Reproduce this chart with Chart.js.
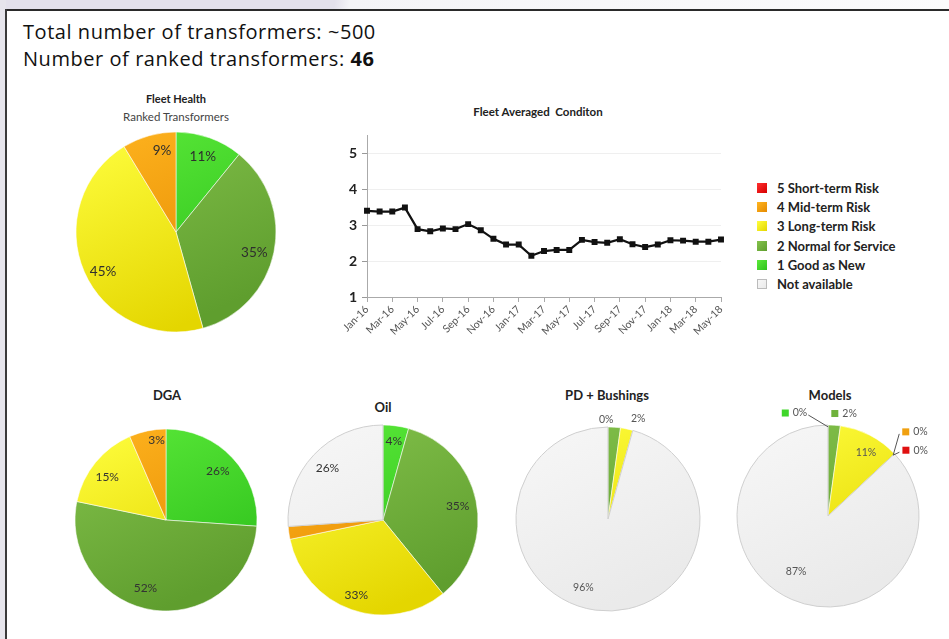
<!DOCTYPE html>
<html><head><meta charset="utf-8">
<script src="https://cdn.jsdelivr.net/npm/chart.js@4.4.1/dist/chart.umd.min.js"></script>
<style>
html,body{margin:0;padding:0;background:#fff;}
#page{position:relative;width:949px;height:639px;overflow:hidden;background:#fff;font-family:'Open Sans',sans-serif;color:#111;}
.abs{position:absolute;}
.ttl{position:absolute;font-family:Lato,sans-serif;font-weight:bold;color:#222;text-align:center;white-space:nowrap;transform:translate(-50%,-50%);}
.lg{position:absolute;left:757px;font-family:Lato,sans-serif;font-weight:bold;font-size:13px;color:#222;white-space:nowrap;}
.lg span.k{position:absolute;left:0;top:-5px;width:10px;height:10px;box-sizing:border-box;}
.lg span.t{position:absolute;left:20px;top:-8px;line-height:16px;}
canvas{position:absolute;}
</style></head>
<body><div id="page">
<div class="abs" style="left:0;top:0;width:949px;height:9px;background:linear-gradient(100deg,#e3e1eb 0,#e3e1eb 330px,#f4f4f7 345px,#fbfbfc 100%);"></div>
<div class="abs" style="left:0;top:0;width:6px;height:639px;background:#e6e5ec;"></div>
<div class="abs" style="left:6px;top:9px;width:943px;height:2px;background:#2a2a2a;"></div>
<div class="abs" style="left:5px;top:9px;width:2px;height:630px;background:#3a3a3a;"></div>

<div class="abs" style="left:23px;top:18px;font-size:20px;letter-spacing:0.55px;line-height:27px;white-space:nowrap;">Total number of transformers: ~500<br>Number of ranked transformers: <b>46</b></div>

<div class="ttl" style="left:176px;top:98px;font-size:11px;">Fleet Health</div>
<div class="ttl" style="left:176px;top:116px;font-size:11.5px;font-weight:normal;color:#444;">Ranked Transformers</div>
<div class="ttl" style="left:538px;top:111px;font-size:11.5px;">Fleet Averaged&nbsp; Conditon</div>
<div class="ttl" style="left:167px;top:395px;font-size:13px;">DGA</div>
<div class="ttl" style="left:383px;top:407px;font-size:13px;">Oil</div>
<div class="ttl" style="left:607px;top:395px;font-size:13px;">PD + Bushings</div>
<div class="ttl" style="left:830px;top:395px;font-size:13px;">Models</div>

<div id="legend"></div>

<canvas id="fleet" width="220" height="220" style="left:66px;top:122px;"></canvas>
<canvas id="line" width="410" height="235" style="left:330px;top:122px;"></canvas>
<canvas id="dga" width="200" height="200" style="left:66px;top:420px;"></canvas>
<canvas id="oil" width="210" height="210" style="left:278px;top:415px;"></canvas>
<canvas id="pd" width="220" height="220" style="left:498px;top:405px;"></canvas>
<canvas id="models" width="219" height="225" style="left:730px;top:405px;"></canvas>
</div>
<script>
// ---------- DATA ----------
const months = ['Jan-16','Feb-16','Mar-16','Apr-16','May-16','Jun-16','Jul-16','Aug-16','Sep-16','Oct-16','Nov-16','Dec-16',
  'Jan-17','Feb-17','Mar-17','Apr-17','May-17','Jun-17','Jul-17','Aug-17','Sep-17','Oct-17','Nov-17','Dec-17',
  'Jan-18','Feb-18','Mar-18','Apr-18','May-18'];
const avgCondition = [3.40,3.38,3.38,3.49,2.89,2.83,2.91,2.89,3.03,2.86,2.62,2.46,
  2.46,2.15,2.28,2.31,2.31,2.59,2.53,2.51,2.61,2.47,2.39,2.46,
  2.58,2.57,2.54,2.54,2.60];
const yTicks = [1,2,3,4,5];

// pie categories, clockwise from 12 o'clock
const categories = ['1 Good as New','2 Normal for Service','3 Long-term Risk','4 Mid-term Risk','5 Short-term Risk','Not available'];
const legendOrder = ['5 Short-term Risk','4 Mid-term Risk','3 Long-term Risk','2 Normal for Service','1 Good as New','Not available'];

// transformer counts (46 ranked)
const fleetHealth = [5,16,21,4,0,0];
const dga         = [12,24,7,3,0,0];
const oil         = [2,16,15,1,0,12];
const pdBushings  = [0,1,1,0,0,44];
const models      = [0,1,5,0,0,40];

// printed labels
const fleetHealthLabels = ['11%','35%','45%','9%',null,null];
const dgaLabels         = ['26%','52%','15%','3%',null,null];
const oilLabels         = ['4%','35%','33%',null,null,'26%'];
const pdLabels          = ['0%',null,'2%',null,null,'96%'];
const modelsLabels      = ['0%','2%','11%','0%','0%','87%'];

// ---------- STYLE ----------
const lightCol = ['#5CEA3A','#84C24C','#FFFF40','#FFB520','#FF3030','#F7F7F7'];
const darkCol  = ['#2FC21C','#5F9E2E','#E4D600','#E58A00','#D60000','#EAEAEA'];
const keyCol   = ['#3FD62A','#6FB23C','#F0EA10','#F0A010','#E01010','#FFFFFF'];

// legend
const lg = document.getElementById('legend');
legendOrder.forEach((name,i)=>{
  const ci = categories.indexOf(name);
  const d = document.createElement('div');
  d.className='lg'; d.style.top=(188+i*19.2)+'px';
  const border = name==='Not available' ? 'border:1px solid #bbb;' : '';
  d.innerHTML = '<span class="k" style="background:linear-gradient(135deg,'+lightCol[ci]+','+darkCol[ci]+');'+border+'"></span><span class="t">'+name+'</span>';
  lg.appendChild(d);
});

function sliceFill(ctx){
  const ci = ctx.dataIndex;
  const ch = ctx.chart, a = ch.chartArea;
  if(!a || ci === undefined) return keyCol[ci||0];
  const g = ch.ctx.createLinearGradient(a.left, a.top, a.left + a.width*0.45, a.bottom);
  g.addColorStop(0, lightCol[ci]); g.addColorStop(1, darkCol[ci]);
  return g;
}

function labelPlugin(spec){
  return { id:'sliceLabels', afterDatasetsDraw(chart){
    const ctx = chart.ctx, meta = chart.getDatasetMeta(0);
    meta.data.forEach((arc,i)=>{
      const t = spec.texts[i]; if(!t) return;
      const p = arc.getProps(['x','y','startAngle','endAngle','outerRadius'], true);
      const pl = spec.place[i];
      const a = (p.startAngle+p.endAngle)/2 + pl[1]*Math.PI/180;
      const lx = p.x + Math.cos(a)*p.outerRadius*pl[0];
      const ly = p.y + Math.sin(a)*p.outerRadius*pl[0];
      ctx.save();
      ctx.font = spec.font; ctx.textBaseline='middle';
      if(spec.keys && spec.keys[i]){
        const w = ctx.measureText(t).width, ks=7, gap=4, tot=ks+gap+w;
        const x0 = lx - tot/2;
        if(spec.leaders && spec.leaders[i]){
          const ang = p.startAngle;
          const ax = p.x + Math.cos(ang)*p.outerRadius*0.98, ay = p.y + Math.sin(ang)*p.outerRadius*0.98;
          const ex = lx < ax ? x0+tot+1 : x0-3;
          ctx.strokeStyle='#555'; ctx.lineWidth=1;
          ctx.beginPath(); ctx.moveTo(ax,ay); ctx.lineTo(ex, ly+2); ctx.stroke();
        }
        ctx.fillStyle = keyCol[i]; ctx.fillRect(x0, ly-ks/2, ks, ks);
        ctx.fillStyle = spec.color; ctx.textAlign='left'; ctx.fillText(t, x0+ks+gap, ly);
      } else {
        ctx.fillStyle = spec.color; ctx.textAlign='center'; ctx.fillText(t, lx, ly);
      }
      ctx.restore();
    });
  }};
}

function makePie(id, values, spec, cx, cy, r){
  const cv = document.getElementById(id);
  const left = parseFloat(cv.style.left), top = parseFloat(cv.style.top);
  const bw = 1;
  const pad = { left: cx - r - bw/2 - left, top: cy - r - bw/2 - top,
                right: left + cv.width - (cx + r + bw/2), bottom: top + cv.height - (cy + r + bw/2) };
  new Chart(cv, {
    type:'pie',
    data:{ labels: categories, datasets:[{ data: values,
      backgroundColor: sliceFill,
      borderColor: (c)=> c.dataIndex===5 ? '#cfcfcf' : 'rgba(255,255,255,0.55)',
      borderWidth: bw }]},
    options:{ responsive:false, animation:false, layout:{padding:pad},
      plugins:{ legend:{display:false}, tooltip:{enabled:false} } },
    plugins:[labelPlugin(spec)]
  });
}

makePie('fleet', fleetHealth, { texts: fleetHealthLabels, font:'13.5px Lato, sans-serif', color:'#2e2e2e',
  place:[[0.8,0],[0.81,3],[0.83,-5],[0.83,6],[0.8,0],[0.8,0]] }, 176, 232, 100);
makePie('dga', dga, { texts: dgaLabels, font:'12px Lato, sans-serif', color:'#333',
  place:[[0.78,0],[0.78,9],[0.8,-3],[0.88,5],[0.8,0],[0.8,0]] }, 166, 520, 91);
makePie('oil', oil, { texts: oilLabels, font:'12px Lato, sans-serif', color:'#333',
  place:[[0.84,0],[0.8,1],[0.84,0],[0.8,0],[0.8,0],[0.8,0]] }, 383, 520, 95);
makePie('pd', pdBushings, { texts: pdLabels, font:'10.5px Lato, sans-serif', color:'#555',
  place:[[1.08,-1],[1.1,0],[1.14,5],[1,0],[1,0],[0.79,12]] }, 608, 519, 92);
makePie('models', models, { texts: modelsLabels, font:'10.5px Lato, sans-serif', color:'#555',
  keys:[true,true,false,true,true,false], leaders:[true,false,false,true,true,false],
  place:[[1.19,-18],[1.14,5],[0.81,3.6],[1.33,-1],[1.2,6],[0.7,6.5]] }, 828, 516, 91);

// line chart
new Chart(document.getElementById('line'), {
  type:'line',
  data:{ labels: months, datasets:[{ data: avgCondition, borderColor:'#111', backgroundColor:'#111',
    borderWidth:2.2, pointStyle:'rect', pointRadius:4.2, pointBorderWidth:0, tension:0 }]},
  options:{ responsive:false, animation:false,
    layout:{ padding:{ top:10, right:19, left:0, bottom:0 } },
    plugins:{ legend:{display:false}, tooltip:{enabled:false} },
    scales:{
      x:{ offset:false,
        afterFit:(s)=>{ s.height = 60; },
        border:{ color:'#aaa' },
        grid:{ drawOnChartArea:false, drawTicks:true, tickLength:5,
               color:(c)=> (c.index%2===0 ? '#aaa' : 'rgba(0,0,0,0)') },
        ticks:{ autoSkip:false, maxRotation:45, minRotation:45, padding:1, color:'#555',
          font:{ family:'Lato', size:10.5 },
          callback:(v,i)=> i%2===0 ? months[i] : '' } },
      y:{ min: yTicks[0], max: 5.5,
        afterFit:(s)=>{ s.width = 37; },
        afterBuildTicks:(s)=>{ s.ticks = yTicks.map(v=>({value:v})); },
        border:{ color:'#aaa' },
        grid:{ color:'#efefef', tickColor:'#999', tickLength:5 },
        ticks:{ stepSize:1, padding:5, color:'#222', font:{ family:'Lato', size:14, weight:'bold' } } }
    }
  }
});
</script>
</body></html>
